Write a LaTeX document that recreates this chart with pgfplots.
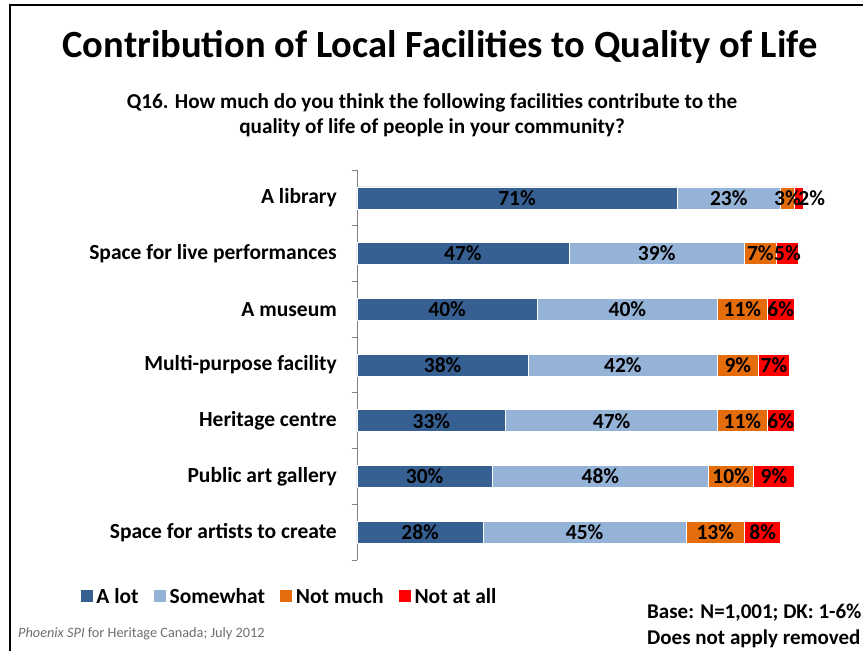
\documentclass[border=0pt]{standalone}
\usepackage{fontspec}
\setmainfont{Carlito}
\usepackage{pgfplots}
\usepackage{pgfplotstable}
\pgfplotsset{compat=1.18}
\definecolor{alot}{RGB}{55,96,146}
\definecolor{somewhat}{RGB}{149,179,215}
\definecolor{notmuch}{RGB}{228,108,10}
\definecolor{notatall}{RGB}{255,0,0}
\definecolor{foot}{RGB}{110,110,110}
\pgfplotstableread{
y a b c d dsh
6 71 23 3 2 13
5 47 39 7 5 0
4 40 40 11 6 0
3 38 42 9 7 0
2 33 47 11 6 0
1 30 48 10 9 0
0 28 45 13 8 0
}\datatable
\pgfplotsset{mybase/.style={at={(357pt,91pt)}, anchor=south west, scale only axis,
  width=450.7pt, height=390pt, xmin=0, xmax=100, ymin=-0.5, ymax=6.5}}
\begin{document}
\begin{tikzpicture}[x=1pt,y=1pt]
\useasboundingbox (0,0) rectangle (863,651);
\clip (0,0) rectangle (863,651);
\draw[line width=2pt] (10,646) rectangle (950,-50);
\node[font=\fontsize{38.5}{46}\selectfont\bfseries] at (440,604) {Contribution of Local Facilities to Quality of Life};
\node[font=\fontsize{21.2}{25}\selectfont\bfseries, align=center] at (432,535.5) {Q16. How much do you think the following facilities contribute to the\\quality of life of people in your community?};
\node[anchor=west, text=foot, font=\fontsize{14.3}{16}\selectfont, inner sep=0pt] at (18,17) {\textit{Phoenix SPI} for Heritage Canada; July 2012};
\node[anchor=base west, font=\fontsize{21}{24}\selectfont\bfseries, inner sep=0pt] at (647,32) {Base: N=1,001; DK: 1-6\%};
\node[anchor=base west, font=\fontsize{21}{24}\selectfont\bfseries, inner sep=0pt] at (647,6) {Does not apply removed};
\begin{axis}[mybase, xbar stacked, bar width=22pt,
  hide x axis, axis y line*=left,
  y axis line style={draw=gray, line width=0.8pt},
  ytick={0,...,6},
  yticklabels={Space for artists to create, Public art gallery, Heritage centre, Multi-purpose facility, A museum, Space for live performances, A library},
  major tick length=0pt,
  minor ytick={-0.5,0.5,...,6.5},
  minor tick length=5pt,
  ytick align=outside, ytick pos=left,
  minor tick style={draw=gray, line width=0.8pt},
  yticklabel style={anchor=east, inner sep=0pt, xshift=-20pt, font=\fontsize{21.5}{24}\selectfont\bfseries},
  legend columns=4,
  legend style={at={(-0.613,-0.093)}, anchor=west, draw=none, fill=none, inner sep=0pt,
    font=\fontsize{21.5}{24}\selectfont\bfseries, nodes={inner sep=3.5pt},
    /tikz/every even column/.append style={column sep=12pt}},
  legend image code/.code={\fill[#1, draw=none] (0pt,-6pt) rectangle (12pt,6pt);},
]
\addplot[fill=alot, draw=white, line width=0.6pt] table[x=a,y=y]{\datatable};
\addplot[fill=somewhat, draw=white, line width=0.6pt] table[x=b,y=y]{\datatable};
\addplot[fill=notmuch, draw=white, line width=0.6pt] table[x=c,y=y]{\datatable};
\addplot[fill=notatall, draw=white, line width=0.6pt] table[x=d,y=y]{\datatable};
\legend{A lot, Somewhat, Not much, Not at all}
\end{axis}
\begin{axis}[mybase, hide axis,
  every node near coord/.append style={anchor=center, font=\fontsize{21.5}{24}\selectfont\bfseries, text=black},
  nodes near coords={\pgfplotspointmeta\%}, point meta=explicit symbolic]
\addplot[draw=none, mark=none] table[x expr=\thisrow{a}/2, y=y, meta=a]{\datatable};
\addplot[draw=none, mark=none] table[x expr=\thisrow{a}+\thisrow{b}/2, y=y, meta=b]{\datatable};
\addplot[draw=none, mark=none] table[x expr=\thisrow{a}+\thisrow{b}+\thisrow{c}/2, y=y, meta=c]{\datatable};
\addplot[draw=none, mark=none, visualization depends on={\thisrow{dsh} \as \dsh},
  every node near coord/.append style={xshift=\dsh pt}] table[x expr=\thisrow{a}+\thisrow{b}+\thisrow{c}+\thisrow{d}/2, y=y, meta=d]{\datatable};
\end{axis}
\end{tikzpicture}
\end{document}
